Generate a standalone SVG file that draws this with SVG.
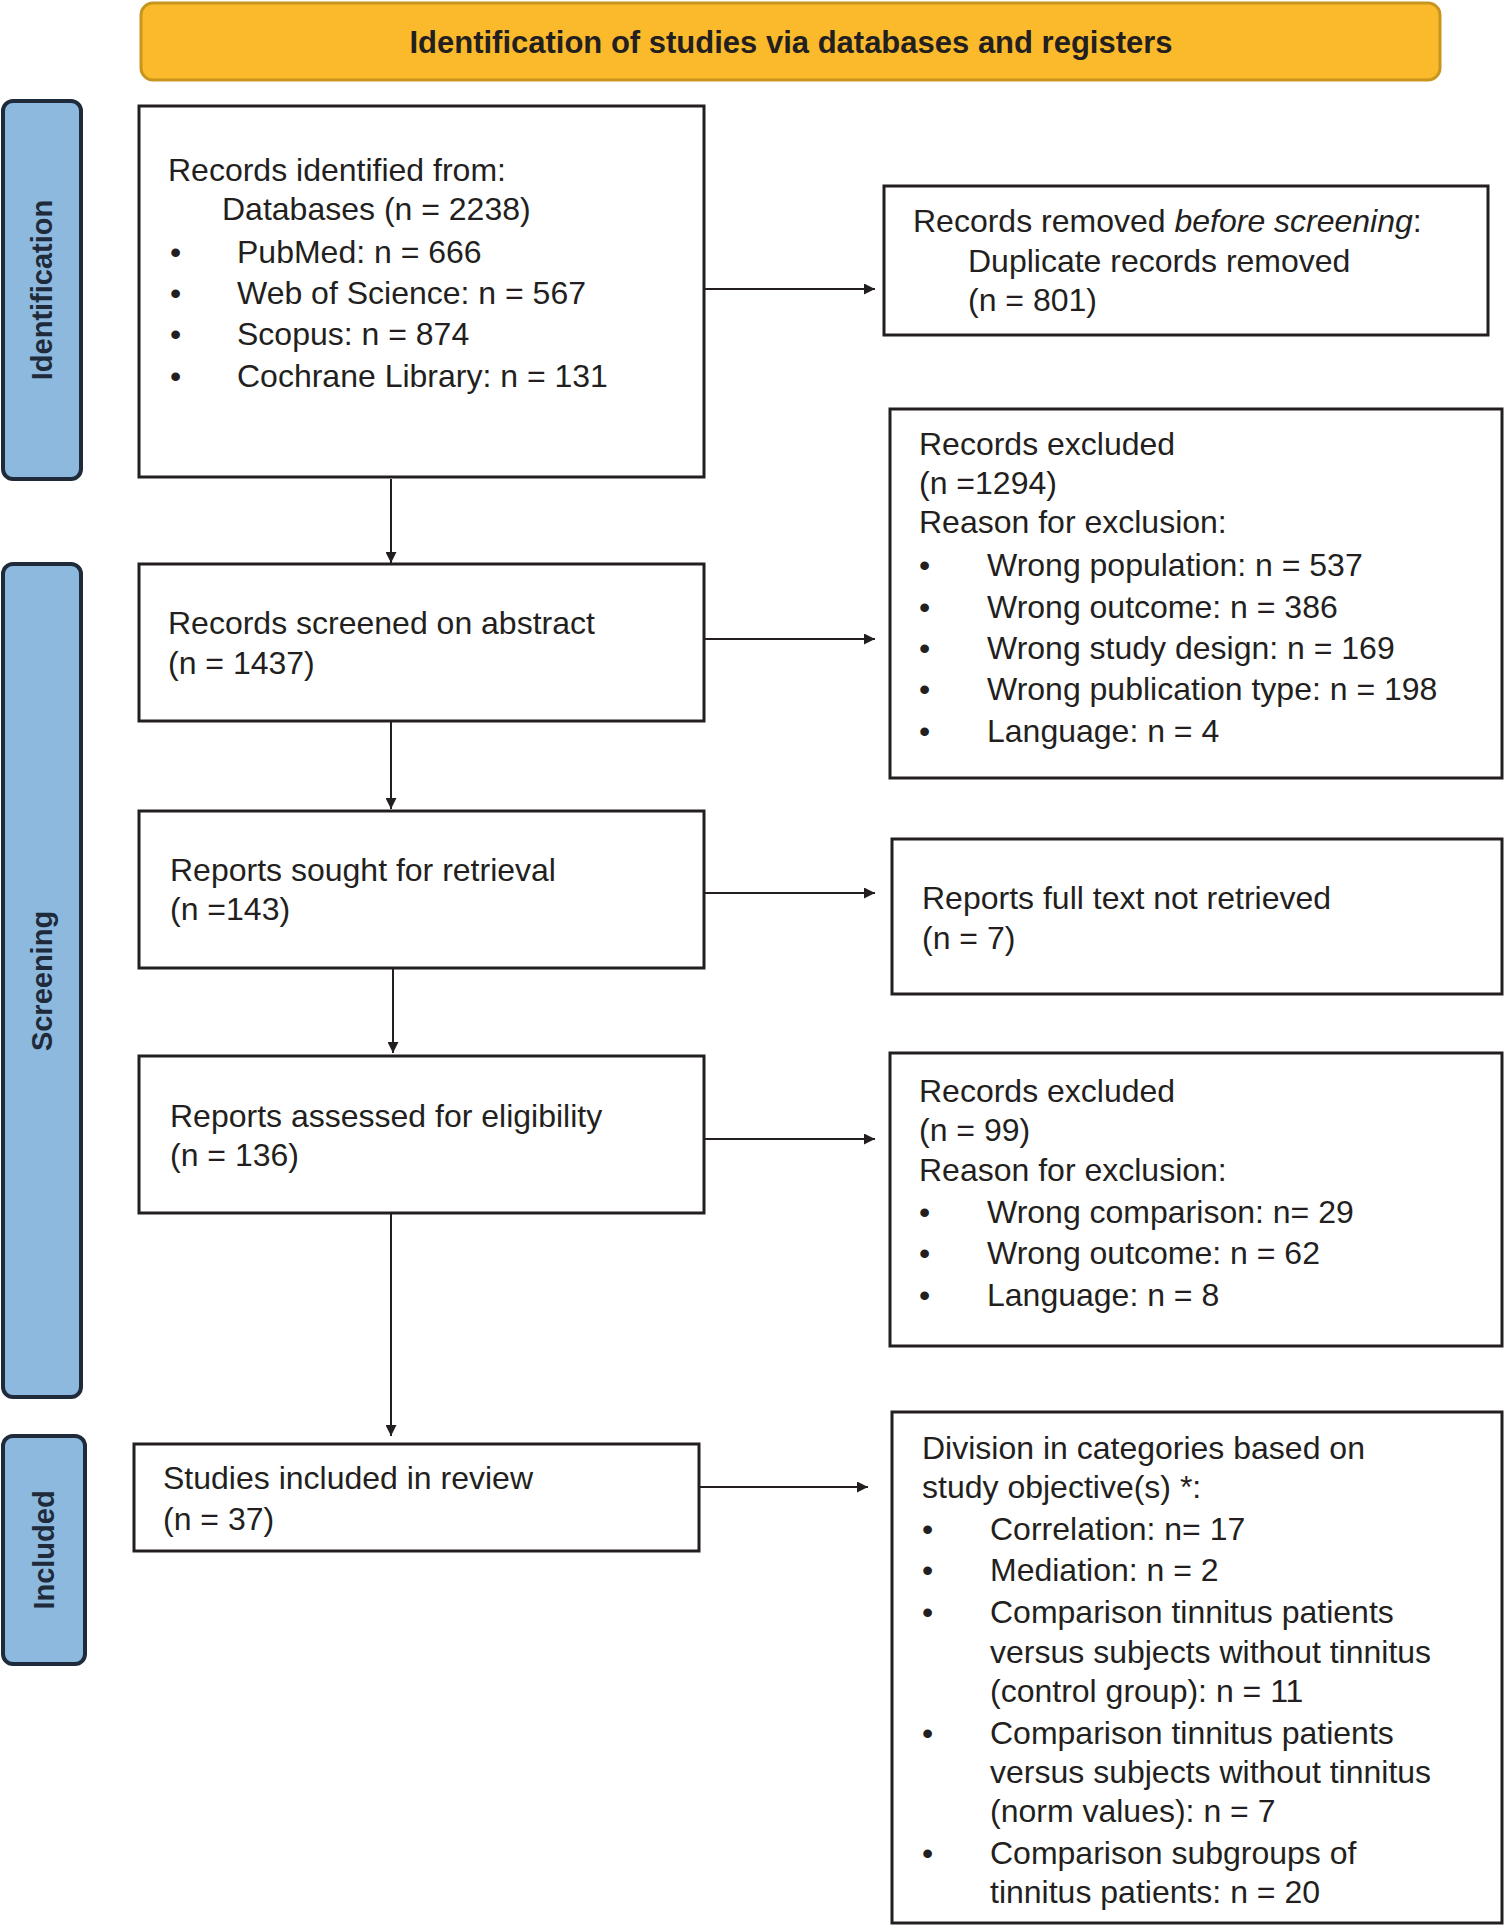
<svg xmlns="http://www.w3.org/2000/svg" width="1504" height="1926" viewBox="0 0 1504 1926">
<defs>
<style>
.b{fill:#fff;stroke:#231f20;stroke-width:3}
.t{font-family:"Liberation Sans",Arial,sans-serif;font-size:32px;fill:#231f20}
.side{fill:#8DB9DF;stroke:#1f2a3a;stroke-width:4}
.sl{font-family:"Liberation Sans",Arial,sans-serif;font-size:29px;font-weight:bold;fill:#1f2a3a;text-anchor:middle}
.c{stroke:#231f20;stroke-width:2;fill:none;marker-end:url(#ah)}
</style>
<marker id="ah" viewBox="0 0 10 10" refX="10" refY="5" markerWidth="11" markerHeight="11" markerUnits="userSpaceOnUse" orient="auto"><path d="M0,0L10,5L0,10z" fill="#231f20"/></marker>
</defs>
<rect width="1504" height="1926" fill="#fff"/>
<g id="header"><rect x="141" y="3" width="1299" height="77" rx="12" fill="#FBBA2B" stroke="#C8951F" stroke-width="3"/>
<text x="791" y="53" class="t" style="font-weight:bold;font-size:31px" text-anchor="middle">Identification of studies via databases and registers</text></g>
<g id="phase-identification"><rect class="side" x="3" y="101" width="78" height="378" rx="10"/><text class="sl" transform="translate(52,290) rotate(-90)">Identification</text></g>
<g id="phase-screening"><rect class="side" x="3" y="564" width="78" height="833" rx="10"/><text class="sl" transform="translate(52,981) rotate(-90)">Screening</text></g>
<g id="phase-included"><rect class="side" x="3" y="1436" width="82" height="228" rx="10"/><text class="sl" transform="translate(54,1550) rotate(-90)">Included</text></g>
<g id="identified"><rect class="b" x="139" y="106" width="565" height="371"/>
<text class="t" x="168" y="181">Records identified from:</text>
<text class="t" x="222" y="220">Databases (n = 2238)</text>
<text class="t" x="170" y="263">•</text><text class="t" x="237" y="263">PubMed: n = 666</text>
<text class="t" x="170" y="304">•</text><text class="t" x="237" y="304">Web of Science: n = 567</text>
<text class="t" x="170" y="345">•</text><text class="t" x="237" y="345">Scopus: n = 874</text>
<text class="t" x="170" y="387">•</text><text class="t" x="237" y="387">Cochrane Library: n = 131</text></g>
<g id="removed"><rect class="b" x="884" y="186" width="604" height="149"/>
<text class="t" x="913" y="232">Records removed <tspan font-style="italic">before screening</tspan>:</text>
<text class="t" x="968" y="272">Duplicate records removed</text>
<text class="t" x="968" y="311">(n = 801)</text></g>
<g id="screened"><rect class="b" x="139" y="564" width="565" height="157"/>
<text class="t" x="168" y="634">Records screened on abstract</text><text class="t" x="168" y="674">(n = 1437)</text></g>
<g id="excluded1"><rect class="b" x="890" y="409" width="612" height="369"/>
<text class="t" x="919" y="455">Records excluded</text>
<text class="t" x="919" y="494">(n =1294)</text>
<text class="t" x="919" y="533">Reason for exclusion:</text>
<text class="t" x="919" y="576">•</text><text class="t" x="987" y="576">Wrong population: n = 537</text>
<text class="t" x="919" y="618">•</text><text class="t" x="987" y="618">Wrong outcome: n = 386</text>
<text class="t" x="919" y="659">•</text><text class="t" x="987" y="659">Wrong study design: n = 169</text>
<text class="t" x="919" y="700">•</text><text class="t" x="987" y="700">Wrong publication type: n = 198</text>
<text class="t" x="919" y="742">•</text><text class="t" x="987" y="742">Language: n = 4</text></g>
<g id="sought"><rect class="b" x="139" y="811" width="565" height="157"/>
<text class="t" x="170" y="881">Reports sought for retrieval</text><text class="t" x="170" y="920">(n =143)</text></g>
<g id="notretrieved"><rect class="b" x="892" y="839" width="610" height="155"/>
<text class="t" x="922" y="909">Reports full text not retrieved</text><text class="t" x="922" y="949">(n = 7)</text></g>
<g id="assessed"><rect class="b" x="139" y="1056" width="565" height="157"/>
<text class="t" x="170" y="1127">Reports assessed for eligibility</text><text class="t" x="170" y="1166">(n = 136)</text></g>
<g id="excluded2"><rect class="b" x="890" y="1053" width="612" height="293"/>
<text class="t" x="919" y="1102">Records excluded</text>
<text class="t" x="919" y="1141">(n = 99)</text>
<text class="t" x="919" y="1181">Reason for exclusion:</text>
<text class="t" x="919" y="1223">•</text><text class="t" x="987" y="1223">Wrong comparison: n= 29</text>
<text class="t" x="919" y="1264">•</text><text class="t" x="987" y="1264">Wrong outcome: n = 62</text>
<text class="t" x="919" y="1306">•</text><text class="t" x="987" y="1306">Language: n = 8</text></g>
<g id="included"><rect class="b" x="134" y="1444" width="565" height="107"/>
<text class="t" x="163" y="1489">Studies included in review</text><text class="t" x="163" y="1530">(n = 37)</text></g>
<g id="division"><rect class="b" x="892" y="1412" width="610" height="511"/>
<text class="t" x="922" y="1459">Division in categories based on</text>
<text class="t" x="922" y="1498">study objective(s) *:</text>
<text class="t" x="922" y="1540">•</text><text class="t" x="990" y="1540">Correlation: n= 17</text>
<text class="t" x="922" y="1581">•</text><text class="t" x="990" y="1581">Mediation: n = 2</text>
<text class="t" x="922" y="1623">•</text><text class="t" x="990" y="1623">Comparison tinnitus patients</text>
<text class="t" x="990" y="1663">versus subjects without tinnitus</text>
<text class="t" x="990" y="1702">(control group): n = 11</text>
<text class="t" x="922" y="1744">•</text><text class="t" x="990" y="1744">Comparison tinnitus patients</text>
<text class="t" x="990" y="1783">versus subjects without tinnitus</text>
<text class="t" x="990" y="1822">(norm values): n = 7</text>
<text class="t" x="922" y="1864">•</text><text class="t" x="990" y="1864">Comparison subgroups of</text>
<text class="t" x="990" y="1903">tinnitus patients: n = 20</text></g>
<g id="connectors">
<path class="c" d="M704,289H875"/>
<path class="c" d="M704,639H875"/>
<path class="c" d="M704,893H875"/>
<path class="c" d="M704,1139H875"/>
<path class="c" d="M699,1487H868"/>
<path class="c" d="M391,479V563"/>
<path class="c" d="M391,721V809"/>
<path class="c" d="M393,968V1053"/>
<path class="c" d="M391,1213V1436"/>
</g>
</svg>
